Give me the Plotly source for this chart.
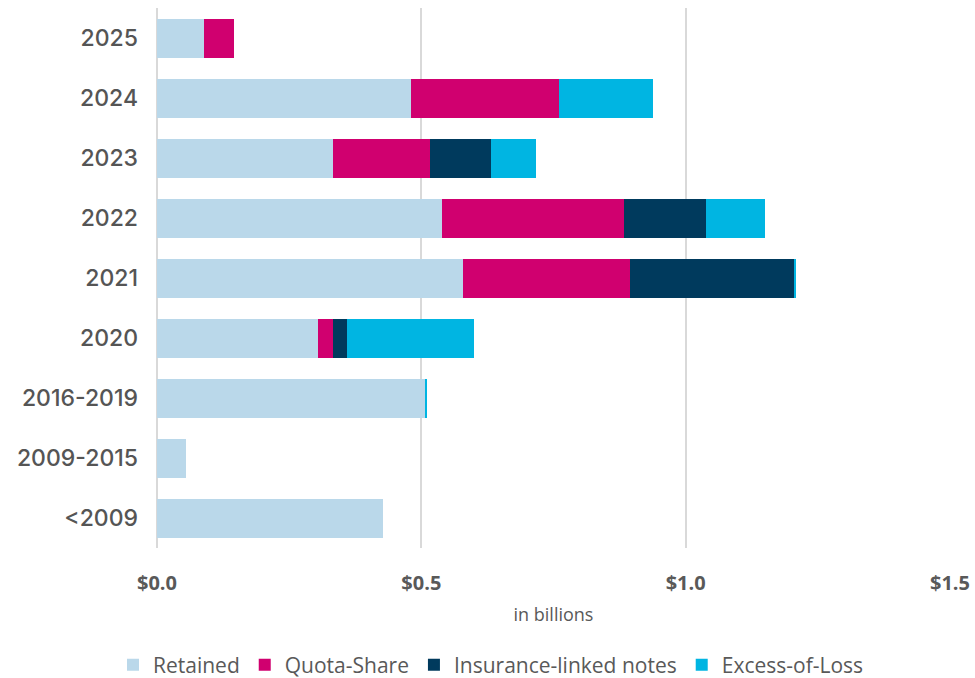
import plotly.graph_objects as go

categories = ["2025", "2024", "2023", "2022", "2021", "2020", "2016-2019", "2009-2015", "<2009"]

retained = [0.089, 0.480, 0.332, 0.540, 0.579, 0.304, 0.506, 0.054, 0.427]
quota_share = [0.057, 0.281, 0.184, 0.344, 0.316, 0.028, 0.0, 0.0, 0.0]
ins_linked_notes = [0.0, 0.0, 0.115, 0.154, 0.311, 0.028, 0.0, 0.0, 0.0]
excess_of_loss = [0.0, 0.178, 0.085, 0.112, 0.003, 0.239, 0.004, 0.0, 0.0]

x_tick_vals = [0, 0.5, 1.0, 1.5]
x_tick_text = ["$0.0", "$0.5", "$1.0", "$1.5"]

series = [
    ("Retained", retained, "#BAD8EA"),
    ("Quota-Share", quota_share, "#D0006F"),
    ("Insurance-linked notes", ins_linked_notes, "#003A5D"),
    ("Excess-of-Loss", excess_of_loss, "#00B5E2"),
]

fig = go.Figure()
for name, vals, color in series:
    fig.add_trace(go.Bar(
        y=categories, x=vals, name=name, orientation="h",
        marker=dict(color=color, line=dict(width=0)),
    ))

fig.update_layout(
    width=975, height=678,
    barmode="stack", bargap=0.35,
    plot_bgcolor="white", paper_bgcolor="white",
    margin=dict(l=157, r=25, t=8, b=130, autoexpand=False),
    showlegend=True,
    legend=dict(
        orientation="h", xref="container", x=491 / 975, xanchor="center",
        yref="container", y=13 / 678, yanchor="middle",
        traceorder="normal",
        font=dict(family="Open Sans", size=21, color="#595959"),
        itemwidth=30,
    ),
    xaxis=dict(
        range=[0, 1.5], tickvals=x_tick_vals, ticktext=x_tick_text,
        showgrid=True, gridcolor="#D9D9D9", gridwidth=2,
        zeroline=True, zerolinecolor="#D9D9D9", zerolinewidth=2,
        showline=False, ticks="", automargin=False,
        ticklabelstandoff=21,
        tickfont=dict(family="Open Sans", size=20, color="#595959", weight="bold"),
        title=dict(text="in billions", standoff=13,
                   font=dict(family="Open Sans", size=18, color="#595959")),
    ),
    yaxis=dict(
        autorange="reversed", showgrid=False, zeroline=False, showline=False,
        ticks="", ticklabelstandoff=18, automargin=False,
        tickfont=dict(family="Inter", size=23, color="#555555", weight=500),
    ),
)

fig.write_html("out.html")
